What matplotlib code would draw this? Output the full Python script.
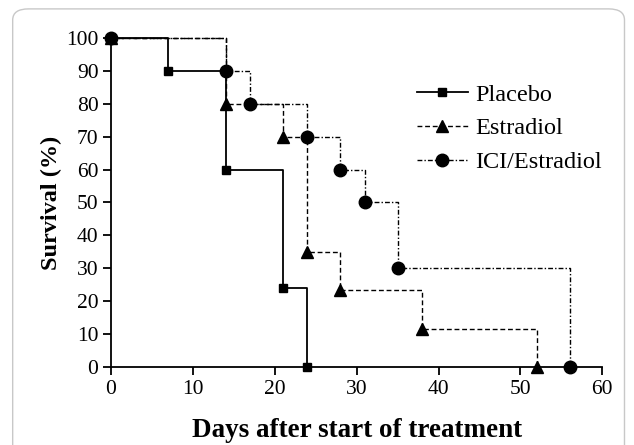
import matplotlib
matplotlib.use("Agg")
import matplotlib.pyplot as plt
from matplotlib.patches import FancyBboxPatch

plt.rcParams['font.family'] = ['Liberation Serif', 'DejaVu Serif']

placebo_days = [0, 7, 14, 21, 24]
placebo_surv = [100, 90, 60, 24, 0]
estradiol_days = [0, 14, 21, 24, 28, 38, 52]
estradiol_surv = [100, 80, 70, 35, 23.3, 11.7, 0]
ici_days = [0, 14, 17, 24, 28, 31, 35, 56]
ici_surv = [100, 90, 80, 70, 60, 50, 30, 0]
xticks = [0, 10, 20, 30, 40, 50, 60]
yticks = [0, 10, 20, 30, 40, 50, 60, 70, 80, 90, 100]

fig = plt.figure(figsize=(6.34, 4.45), dpi=100)
ax = fig.add_axes([0.175, 0.175, 0.775, 0.74])

border = FancyBboxPatch((0.02, -0.05), 0.965, 1.03, transform=fig.transFigure,
                        boxstyle="round,pad=0,rounding_size=0.025",
                        fc='none', ec='#c8c8c8', lw=1.0, zorder=-1)
fig.patches.append(border)

ax.step(ici_days, ici_surv, where='post', color='black', lw=1.0,
        linestyle=(0, (3.5, 1.5, 1, 1.5)), marker='o', markersize=9,
        label='ICI/Estradiol', zorder=3)
ax.step(estradiol_days, estradiol_surv, where='post', color='black', lw=1.0,
        linestyle=(0, (3.5, 2)), marker='^', markersize=8.5,
        label='Estradiol', zorder=4)
ax.step(placebo_days, placebo_surv, where='post', color='black', lw=1.3,
        linestyle='-', marker='s', markersize=6,
        label='Placebo', zorder=5)

ax.set_xlim(0, 60)
ax.set_ylim(0, 100)
ax.set_xticks(xticks)
ax.set_yticks(yticks)
for s in ['top', 'right']:
    ax.spines[s].set_visible(False)
for s in ['left', 'bottom']:
    ax.spines[s].set_linewidth(1.3)
ax.tick_params(direction='out', length=6, width=1.3, labelsize=15.5, pad=3)
for t in ax.get_xticklabels() + ax.get_yticklabels():
    t.set_clip_on(False)
for l in ax.get_lines():
    l.set_clip_on(False)

ax.set_xlabel('Days after start of treatment', fontsize=19.5, fontweight='bold', labelpad=14)
ax.set_ylabel('Survival (%)', fontsize=17.5, fontweight='bold', labelpad=3)

h, lab = ax.get_legend_handles_labels()
order = [2, 1, 0]
leg = fig.legend([h[i] for i in order], [lab[i] for i in order], loc='upper left',
                 bbox_to_anchor=(0.657, 0.812), bbox_transform=fig.transFigure,
                 frameon=False, fontsize=17.5, borderpad=0, borderaxespad=0,
                 handlelength=2.1, handletextpad=0.3, labelspacing=0.48)

fig.savefig('out.png', dpi=100)
